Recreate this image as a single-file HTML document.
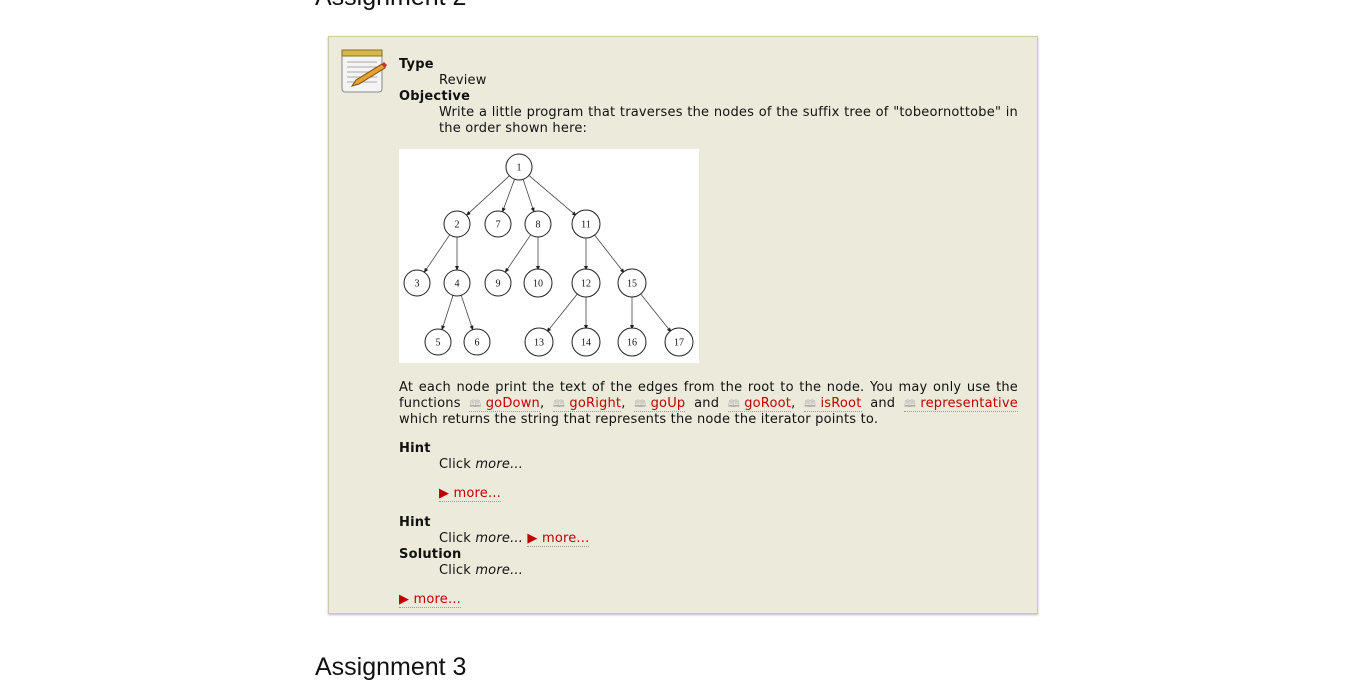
<!DOCTYPE html>
<html><head><meta charset="utf-8"><style>
body{margin:0;width:1349px;height:668px;background:#fff;position:relative;overflow:hidden;font-family:"DejaVu Sans","Liberation Sans",sans-serif;font-size:13px;letter-spacing:0.2px;color:#111}
.h{position:absolute;left:315px;font-family:"Liberation Sans",sans-serif;font-size:25px;color:#111;letter-spacing:0}
.box{position:absolute;left:328px;top:36px;width:708px;height:576px;background:#ecebdb;border:1px solid #cccca4;box-shadow:0 1px 2px #bbb}
.l{position:absolute;line-height:16px;white-space:nowrap;margin-top:1px}
b{font-weight:bold}
.r{color:#c00000;border-bottom:1px dotted #999}
.bk{color:#aaa;font-size:10px}
.tri{color:#c00000}
</style></head><body>
<div class="h" style="top:-17px">Assignment 2</div>
<div class="h" style="top:653px">Assignment 3</div>
<div class="box"></div>
<svg style="position:absolute;left:340px;top:46px" width="48" height="48" viewBox="0 0 48 48">
<rect x="2" y="4" width="40" height="42" rx="3" fill="#f4f4f4" stroke="#888"/>
<rect x="2" y="4" width="40" height="6" fill="#d9b64a" stroke="#8a7020"/>
<g stroke="#aaa"><line x1="7" y1="16" x2="37" y2="16"/><line x1="7" y1="21" x2="37" y2="21"/><line x1="7" y1="26" x2="37" y2="26"/><line x1="7" y1="31" x2="37" y2="31"/><line x1="7" y1="36" x2="37" y2="36"/></g>
<polygon points="12,40 16,34 42,18 45,22 19,38" fill="#e8a030" stroke="#7a5010"/>
<polygon points="42,18 45,22 47,19 44,16" fill="#d03030"/>
</svg>
<div class="l" style="left:399px;top:56px"><b>Type</b></div>
<div class="l" style="left:439px;top:72px">Review</div>
<div class="l" style="left:399px;top:88px"><b>Objective</b></div>
<div class="l" style="left:439px;top:104px;width:579px;text-align:justify;text-align-last:justify">Write a little program that traverses the nodes of the suffix tree of "tobeornottobe" in</div>
<div class="l" style="left:439px;top:120px">the order shown here:</div>
<svg style="position:absolute;left:399px;top:149px" width="300" height="214" viewBox="0 0 300 214">
<defs><marker id="a" markerWidth="6" markerHeight="6" refX="5" refY="3" orient="auto"><path d="M0,0.5 L6,3 L0,5.5z" fill="#222"/></marker></defs>
<rect width="300" height="214" fill="#fff"/>
<g stroke="#444" stroke-width="0.8" marker-end="url(#a)">
<line x1="110.4" y1="26.8" x2="67.6" y2="66.2"/>
<line x1="115.5" y1="30.2" x2="103.5" y2="62.8"/>
<line x1="124.1" y1="30.3" x2="134.9" y2="62.7"/>
<line x1="129.9" y1="26.4" x2="177.1" y2="66.6"/>
<line x1="50.7" y1="85.8" x2="25.3" y2="123.2"/>
<line x1="58" y1="88" x2="58" y2="121"/>
<line x1="131.7" y1="85.8" x2="106.3" y2="123.2"/>
<line x1="139" y1="88" x2="139" y2="121"/>
<line x1="187" y1="88" x2="187" y2="121"/>
<line x1="195" y1="85.3" x2="225" y2="123.7"/>
<line x1="54" y1="146.4" x2="43" y2="180.6"/>
<line x1="62.2" y1="146.3" x2="73.8" y2="180.7"/>
<line x1="178.9" y1="144.2" x2="148.1" y2="182.8"/>
<line x1="187" y1="147" x2="187" y2="180"/>
<line x1="233" y1="147" x2="233" y2="180"/>
<line x1="241.1" y1="144.2" x2="271.9" y2="182.8"/>
</g>
<g fill="#fff" stroke="#222" stroke-width="1">
<circle cx="120" cy="18" r="13"/><circle cx="58" cy="75" r="13"/><circle cx="99" cy="75" r="13"/><circle cx="139" cy="75" r="13"/><circle cx="187" cy="75" r="14"/>
<circle cx="18" cy="134" r="13"/><circle cx="58" cy="134" r="13"/><circle cx="99" cy="134" r="13"/><circle cx="139" cy="134" r="14"/><circle cx="187" cy="134" r="14"/><circle cx="233" cy="134" r="14"/>
<circle cx="39" cy="193" r="13"/><circle cx="78" cy="193" r="13"/><circle cx="140" cy="193" r="14"/><circle cx="187" cy="193" r="14"/><circle cx="233" cy="193" r="14"/><circle cx="280" cy="193" r="14"/>
</g>
<g font-family="Liberation Serif,serif" font-size="10" text-anchor="middle" fill="#111" letter-spacing="0">
<text x="120" y="21.5">1</text><text x="58" y="78.5">2</text><text x="99" y="78.5">7</text><text x="139" y="78.5">8</text><text x="187" y="78.5">11</text>
<text x="18" y="137.5">3</text><text x="58" y="137.5">4</text><text x="99" y="137.5">9</text><text x="139" y="137.5">10</text><text x="187" y="137.5">12</text><text x="233" y="137.5">15</text>
<text x="39" y="196.5">5</text><text x="78" y="196.5">6</text><text x="140" y="196.5">13</text><text x="187" y="196.5">14</text><text x="233" y="196.5">16</text><text x="280" y="196.5">17</text>
</g>
</svg>
<div class="l" style="left:399px;top:379px;width:619px;text-align:justify;text-align-last:justify">At each node print the text of the edges from the root to the node. You may only use the</div>
<div class="l" style="left:399px;top:395px;width:619px;text-align:justify;text-align-last:justify">functions <span class="r"><span class="bk">&#x1F56E;</span>goDown</span>, <span class="r"><span class="bk">&#x1F56E;</span>goRight</span>, <span class="r"><span class="bk">&#x1F56E;</span>goUp</span> and <span class="r"><span class="bk">&#x1F56E;</span>goRoot</span>, <span class="r"><span class="bk">&#x1F56E;</span>isRoot</span> and <span class="r"><span class="bk">&#x1F56E;</span>representative</span></div>
<div class="l" style="left:399px;top:411px">which returns the string that represents the node the iterator points to.</div>
<div class="l" style="left:399px;top:440px"><b>Hint</b></div>
<div class="l" style="left:439px;top:456px">Click <i>more...</i></div>
<div class="l" style="left:439px;top:485px"><span class="r"><span class="tri">&#9654;</span> more...</span></div>
<div class="l" style="left:399px;top:514px"><b>Hint</b></div>
<div class="l" style="left:439px;top:530px">Click <i>more...</i> <span class="r"><span class="tri">&#9654;</span> more...</span></div>
<div class="l" style="left:399px;top:546px"><b>Solution</b></div>
<div class="l" style="left:439px;top:562px">Click <i>more...</i></div>
<div class="l" style="left:399px;top:591px"><span class="r"><span class="tri">&#9654;</span> more...</span></div>
</body></html>
